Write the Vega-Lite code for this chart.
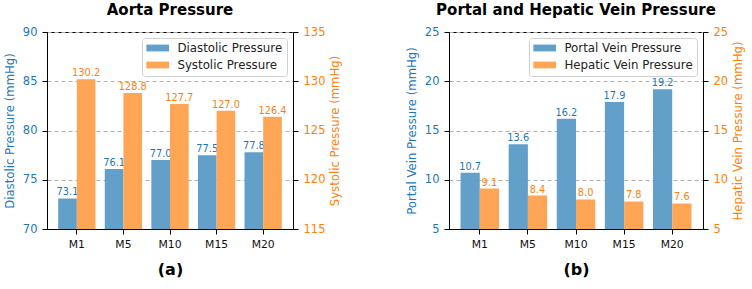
{
  "$schema": "https://vega.github.io/schema/vega-lite/v6.json",
  "padding": {"left": 3, "top": 2, "right": 0, "bottom": 0},
  "spacing": 62,
  "resolve": {"scale": {"color": "independent", "xOffset": "independent", "x": "independent"}, "legend": {"color": "independent"}},
  "config": {
    "font": "DejaVu Sans",
    "view": {"stroke": "#000000", "strokeWidth": 1},
    "axis": {
      "tickSize": 5, "tickColor": "#000000", "domainColor": "#000000",
      "labelPadding": 5, "labelFontSize": 11.5, "titleFontSize": 11.7,
      "titleFontWeight": "normal", "grid": false
    },
    "axisX": {
      "labelAngle": 0, "labelFontSize": 10.8, "labelColor": "#111111", "labelPadding": 4,
      "titleFontSize": 16, "titleFontWeight": "bold", "titlePadding": 13, "titleColor": "#000000"
    },
    "title": {"fontSize": 15, "fontWeight": "bold", "anchor": "middle", "offset": 8, "color": "#000000"},
    "legend": {
      "offset": 6, "title": null,
      "fillColor": "#ffffff", "strokeColor": "#d0d0d0", "cornerRadius": 3, "padding": 4,
      "symbolType": "M-2,-0.6H2V0.6H-2Z", "symbolSize": 129, "symbolStrokeWidth": 0, "symbolOffset": 5.7,
      "symbolOpacity": 1, "labelFontSize": 11.8, "labelOffset": 13.7, "rowPadding": 4, "labelColor": "#222222"
    }
  },
  "hconcat": [
    {
      "width": 246, "height": 197,
      "title": "Aorta Pressure",
      "data": {"values": [
        {"stage": "M1", "series": "Diastolic Pressure", "value": 73.1},
        {"stage": "M5", "series": "Diastolic Pressure", "value": 76.1},
        {"stage": "M10", "series": "Diastolic Pressure", "value": 77.0},
        {"stage": "M15", "series": "Diastolic Pressure", "value": 77.5},
        {"stage": "M20", "series": "Diastolic Pressure", "value": 77.8},
        {"stage": "M1", "series": "Systolic Pressure", "value": 130.2},
        {"stage": "M5", "series": "Systolic Pressure", "value": 128.8},
        {"stage": "M10", "series": "Systolic Pressure", "value": 127.7},
        {"stage": "M15", "series": "Systolic Pressure", "value": 127.0},
        {"stage": "M20", "series": "Systolic Pressure", "value": 126.4}
      ]},
      "encoding": {
        "x": {"field": "stage", "type": "nominal", "sort": ["M1", "M5", "M10", "M15", "M20"],
              "scale": {"paddingInner": 0.2, "paddingOuter": 0.24}, "axis": {"title": "(a)"}},
        "xOffset": {"field": "series", "type": "nominal",
                    "scale": {"domain": ["Diastolic Pressure", "Systolic Pressure"], "paddingInner": 0, "paddingOuter": 0}},
        "color": {"field": "series", "type": "nominal",
                  "scale": {"domain": ["Diastolic Pressure", "Systolic Pressure"], "range": ["#62a0ca", "#ffa556"]},
                  "legend": {"orient": "top-right", "offset": 6}}
      },
      "layer": [
        {
          "transform": [{"filter": "datum.series === 'Diastolic Pressure'"}],
          "encoding": {
            "y": {"field": "value", "type": "quantitative",
                  "scale": {"domain": [70, 90], "zero": false, "nice": false},
                  "axis": {"title": "Diastolic Pressure (mmHg)", "values": [70, 75, 80, 85, 90],
                           "grid": true, "gridDash": [4, 3], "gridColor": "#b0b0b0",
                           "labelColor": "#1f77b4", "titleColor": "#1f77b4", "titlePadding": 7}}
          },
          "layer": [
            {"mark": {"type": "bar", "clip": true}},
            {"mark": {"type": "text", "baseline": "bottom", "fontSize": 9.8, "dy": -1},
             "encoding": {"text": {"field": "value", "format": ".1f"}, "color": {"value": "#1f77b4"}}}
          ]
        },
        {
          "transform": [{"filter": "datum.series === 'Systolic Pressure'"}],
          "encoding": {
            "y": {"field": "value", "type": "quantitative",
                  "scale": {"domain": [115, 135], "zero": false, "nice": false},
                  "axis": {"orient": "right", "title": "Systolic Pressure (mmHg)", "values": [115, 120, 125, 130, 135],
                           "labelColor": "#ff7f0e", "titleColor": "#ff7f0e", "titlePadding": 5,
                           "titleAngle": -90, "titleBaseline": "top"}}
          },
          "layer": [
            {"mark": {"type": "bar", "clip": true}},
            {"mark": {"type": "text", "baseline": "bottom", "fontSize": 9.8, "dy": -1},
             "encoding": {"text": {"field": "value", "format": ".1f"}, "color": {"value": "#ff7f0e"}}}
          ]
        }
      ],
      "resolve": {"scale": {"y": "independent"}}
    },
    {
      "width": 254, "height": 197,
      "title": "Portal and Hepatic Vein Pressure",
      "data": {"values": [
        {"stage": "M1", "series": "Portal Vein Pressure", "value": 10.7},
        {"stage": "M5", "series": "Portal Vein Pressure", "value": 13.6},
        {"stage": "M10", "series": "Portal Vein Pressure", "value": 16.2},
        {"stage": "M15", "series": "Portal Vein Pressure", "value": 17.9},
        {"stage": "M20", "series": "Portal Vein Pressure", "value": 19.2},
        {"stage": "M1", "series": "Hepatic Vein Pressure", "value": 9.1},
        {"stage": "M5", "series": "Hepatic Vein Pressure", "value": 8.4},
        {"stage": "M10", "series": "Hepatic Vein Pressure", "value": 8.0},
        {"stage": "M15", "series": "Hepatic Vein Pressure", "value": 7.8},
        {"stage": "M20", "series": "Hepatic Vein Pressure", "value": 7.6}
      ]},
      "encoding": {
        "x": {"field": "stage", "type": "nominal", "sort": ["M1", "M5", "M10", "M15", "M20"],
              "scale": {"paddingInner": 0.2, "paddingOuter": 0.24}, "axis": {"title": "(b)"}},
        "xOffset": {"field": "series", "type": "nominal",
                    "scale": {"domain": ["Portal Vein Pressure", "Hepatic Vein Pressure"], "paddingInner": 0, "paddingOuter": 0}},
        "color": {"field": "series", "type": "nominal",
                  "scale": {"domain": ["Portal Vein Pressure", "Hepatic Vein Pressure"], "range": ["#62a0ca", "#ffa556"]},
                  "legend": {"orient": "top-right", "offset": 6}}
      },
      "layer": [
        {
          "transform": [{"filter": "datum.series === 'Portal Vein Pressure'"}],
          "encoding": {
            "y": {"field": "value", "type": "quantitative",
                  "scale": {"domain": [5, 25], "zero": false, "nice": false},
                  "axis": {"title": "Portal Vein Pressure (mmHg)", "values": [5, 10, 15, 20, 25],
                           "grid": true, "gridDash": [4, 3], "gridColor": "#b0b0b0",
                           "labelColor": "#1f77b4", "titleColor": "#1f77b4", "titlePadding": 7}}
          },
          "layer": [
            {"mark": {"type": "bar", "clip": true}},
            {"mark": {"type": "text", "baseline": "bottom", "fontSize": 9.8, "dy": -1},
             "encoding": {"text": {"field": "value", "format": ".1f"}, "color": {"value": "#1f77b4"}}}
          ]
        },
        {
          "transform": [{"filter": "datum.series === 'Hepatic Vein Pressure'"}],
          "encoding": {
            "y": {"field": "value", "type": "quantitative",
                  "scale": {"domain": [5, 25], "zero": false, "nice": false},
                  "axis": {"orient": "right", "title": "Hepatic Vein Pressure (mmHg)", "values": [5, 10, 15, 20, 25],
                           "labelColor": "#ff7f0e", "titleColor": "#ff7f0e", "titlePadding": 5,
                           "titleAngle": -90, "titleBaseline": "top"}}
          },
          "layer": [
            {"mark": {"type": "bar", "clip": true}},
            {"mark": {"type": "text", "baseline": "bottom", "fontSize": 9.8, "dy": -1},
             "encoding": {"text": {"field": "value", "format": ".1f"}, "color": {"value": "#ff7f0e"}}}
          ]
        }
      ],
      "resolve": {"scale": {"y": "independent"}}
    }
  ]
}
